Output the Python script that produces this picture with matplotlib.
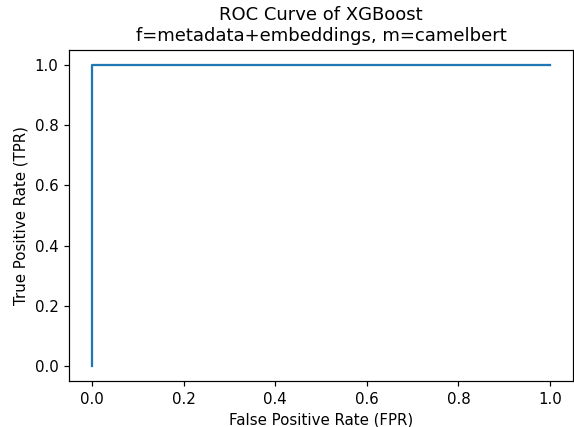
import matplotlib

matplotlib.use("Agg")

import matplotlib.pyplot as plt  # noqa: E402

fpr = [0.0, 0.0, 1.0]
tpr = [0.0, 1.0, 1.0]

model_name = "XGBoost"
features = "metadata+embeddings"
encoder = "camelbert"

DPI = 108
fig = plt.figure(figsize=(574 / DPI, 427 / DPI), dpi=DPI)
ax = fig.add_axes([69 / 574, 1 - 381 / 427, 504 / 574, 331 / 427])
ax.plot(fpr, tpr, color="#1f77b4", linewidth=1.5)
ax.set_title(f"ROC Curve of {model_name}\nf={features}, m={encoder}")
ax.set_xlabel("False Positive Rate (FPR)")
ax.set_ylabel("True Positive Rate (TPR)")

fig.savefig("out.png", dpi=DPI)
plt.close(fig)
